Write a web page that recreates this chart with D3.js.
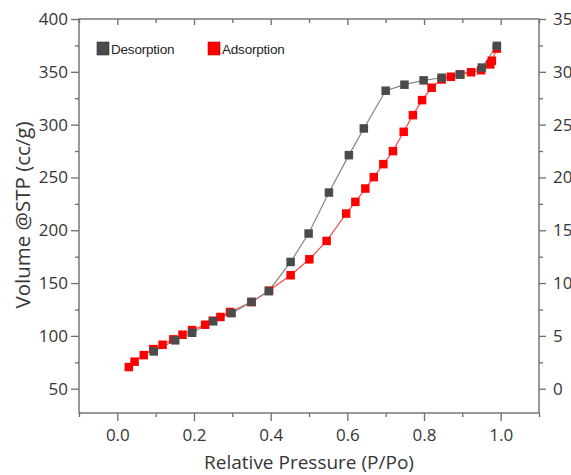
<!DOCTYPE html>
<html>
<head>
<meta charset="utf-8">
<script src="https://cdn.jsdelivr.net/npm/d3@7"></script>
<style>
    body { margin: 0; background: #fff; }
    svg { display: block; }
</style>
</head>
<body>
<svg id="isotherm" width="571" height="475"></svg>
<script>
// desorption branch (gray)
var desP = [0.095, 0.151, 0.195, 0.250, 0.298, 0.350, 0.395, 0.452, 0.499, 0.552,
            0.604, 0.643, 0.700, 0.749, 0.799, 0.846, 0.893, 0.951, 0.990];
var desV = [85.3, 95.8, 103, 113.8, 121.5, 132.2, 142.3, 170, 196.9, 235.7,
            271.1, 296.4, 332.1, 337.8, 341.9, 344.4, 347.4, 354, 374.6];

// adsorption branch (red)
var adsP = [0.030, 0.045, 0.069, 0.094, 0.118, 0.146, 0.170, 0.195, 0.229, 0.249,
            0.269, 0.294, 0.350, 0.396, 0.452, 0.501, 0.546, 0.597, 0.621, 0.647,
            0.669, 0.694, 0.719, 0.747, 0.771, 0.795, 0.820, 0.846, 0.870, 0.895,
            0.923, 0.949, 0.973, 0.977, 0.990];
var adsV = [70.5, 75.6, 81.8, 87.5, 91.6, 96.7, 101.1, 105.5, 110.6, 114.4,
            117.9, 122.6, 132, 142.9, 157.4, 172.5, 189.9, 215.8, 226.9, 239.5,
            250.3, 262.6, 274.9, 293.2, 309, 323.2, 334.9, 342.8, 345.3, 347.5,
            349.6, 351.5, 357, 360.5, 372];

var xTicks = [0.0, 0.2, 0.4, 0.6, 0.8, 1.0];
var xMinor = [-0.1, 0.1, 0.3, 0.5, 0.7, 0.9, 1.1];
var yTicks = [50, 100, 150, 200, 250, 300, 350, 400];
var yMinor = [75, 125, 175, 225, 275, 325, 375];
var y2Ticks = [0, 5, 10, 15, 20, 25, 30, 35];
var y2Minor = [2.5, 7.5, 12.5, 17.5, 22.5, 27.5, 32.5];

var series = [
    { name: "Desorption", p: desP, v: desV, fill: "#4b4b4b", line: "#858585" },
    { name: "Adsorption", p: adsP, v: adsV, fill: "#ff0000", line: "#ff4a4a" }
];

var svg = d3.select("svg#isotherm"),
    margin = { left: 79, right: 32, top: 19, bottom: 62 },
    width = +svg.attr("width"),
    height = +svg.attr("height"),
    x_scale = d3.scaleLinear().domain([-0.1, 1.1]).range([margin.left, width - margin.right]),
    y_scale = d3.scaleLinear().domain([27, 400]).range([height - margin.bottom, margin.top]),
    y2_scale = d3.scaleLinear().domain([-2.3, 35]).range([height - margin.bottom, margin.top]),
    axisColor = "#6e6e6e",
    textColor = "#363636",
    tickFont = "Open Sans";

var plotBottom = height - margin.bottom,
    plotRight = width - margin.right;

function styleAxis(g, showText) {
    g.select(".domain").remove();
    g.selectAll(".tick line").attr("stroke", axisColor).attr("stroke-width", 1.3);
    g.selectAll(".tick text")
        .attr("fill", textColor)
        .style("font-family", tickFont)
        .style("font-size", "17px");
    if (!showText) g.selectAll(".tick text").remove();
}

// bottom axis
svg.append("g")
    .attr("transform", "translate(0," + plotBottom + ")")
    .call(d3.axisBottom(x_scale).tickValues(xTicks).tickFormat(d3.format(".1f")).tickSize(8).tickPadding(8))
    .call(g => styleAxis(g, true));
svg.append("g")
    .attr("transform", "translate(0," + plotBottom + ")")
    .call(d3.axisBottom(x_scale).tickValues(xMinor).tickSize(4))
    .call(g => styleAxis(g, false));

// top edge, ticks pointing in
svg.append("g")
    .attr("transform", "translate(0," + margin.top + ")")
    .call(d3.axisBottom(x_scale).tickValues(xTicks).tickSize(6))
    .call(g => styleAxis(g, false));
svg.append("g")
    .attr("transform", "translate(0," + margin.top + ")")
    .call(d3.axisBottom(x_scale).tickValues(xMinor).tickSize(4))
    .call(g => styleAxis(g, false));

// left axis
svg.append("g")
    .attr("transform", "translate(" + margin.left + ",0)")
    .call(d3.axisLeft(y_scale).tickValues(yTicks).tickSize(8).tickPadding(3))
    .call(g => styleAxis(g, true));
svg.append("g")
    .attr("transform", "translate(" + margin.left + ",0)")
    .call(d3.axisLeft(y_scale).tickValues(yMinor).tickSize(4))
    .call(g => styleAxis(g, false));

// right axis
svg.append("g")
    .attr("transform", "translate(" + plotRight + ",0)")
    .call(d3.axisRight(y2_scale).tickValues(y2Ticks).tickSize(7).tickPadding(7))
    .call(g => styleAxis(g, true));
svg.append("g")
    .attr("transform", "translate(" + plotRight + ",0)")
    .call(d3.axisRight(y2_scale).tickValues(y2Minor).tickSize(4))
    .call(g => styleAxis(g, false));

// frame
svg.append("rect")
    .attr("x", margin.left)
    .attr("y", margin.top)
    .attr("width", plotRight - margin.left)
    .attr("height", plotBottom - margin.top)
    .attr("fill", "none")
    .attr("stroke", axisColor)
    .attr("stroke-width", 1.4);

// titles
svg.append("text")
    .attr("x", (margin.left + plotRight) / 2)
    .attr("y", 469)
    .attr("text-anchor", "middle")
    .attr("fill", textColor)
    .style("font-family", tickFont)
    .style("font-size", "19px")
    .text("Relative Pressure (P/Po)");

svg.append("text")
    .attr("transform", "translate(30," + 215 + ") rotate(-90)")
    .attr("text-anchor", "middle")
    .attr("fill", textColor)
    .style("font-family", tickFont)
    .style("font-size", "20.5px")
    .text("Volume @STP (cc/g)");

// lines: adsorption below desorption
var line = d3.line()
    .x(d => x_scale(d[0]))
    .y(d => y_scale(d[1]));

var pairs = series.map(s => s.p.map((p, i) => [p, s.v[i]]));

[1, 0].forEach(function (k) {
    svg.append("path")
        .datum(pairs[k])
        .attr("d", line)
        .attr("fill", "none")
        .attr("stroke", series[k].line)
        .attr("stroke-width", 1.2);
});

var ms = 8.5;
[1, 0].forEach(function (k) {
    svg.append("g")
        .selectAll("rect")
        .data(pairs[k])
        .enter()
        .append("rect")
        .attr("x", d => x_scale(d[0]) - ms / 2)
        .attr("y", d => y_scale(d[1]) - ms / 2)
        .attr("width", ms)
        .attr("height", ms)
        .attr("fill", series[k].fill);
});

// legend
var legend = svg.append("g").attr("class", "legend");
var legendX = [97, 208];
series.forEach(function (s, i) {
    legend.append("rect")
        .attr("x", legendX[i])
        .attr("y", 42)
        .attr("width", 12)
        .attr("height", 13)
        .attr("fill", s.fill)
        .attr("stroke", i === 0 ? "#333" : "#b00000")
        .attr("stroke-width", 0.6);
    legend.append("text")
        .attr("x", legendX[i] + 14)
        .attr("y", 54)
        .attr("fill", "#1e1e1e")
        .style("font-family", "Liberation Sans, Arial, sans-serif")
        .style("font-size", "13.5px")
        .style("letter-spacing", "-0.2px")
        .text(s.name);
});
</script>
</body>
</html>
